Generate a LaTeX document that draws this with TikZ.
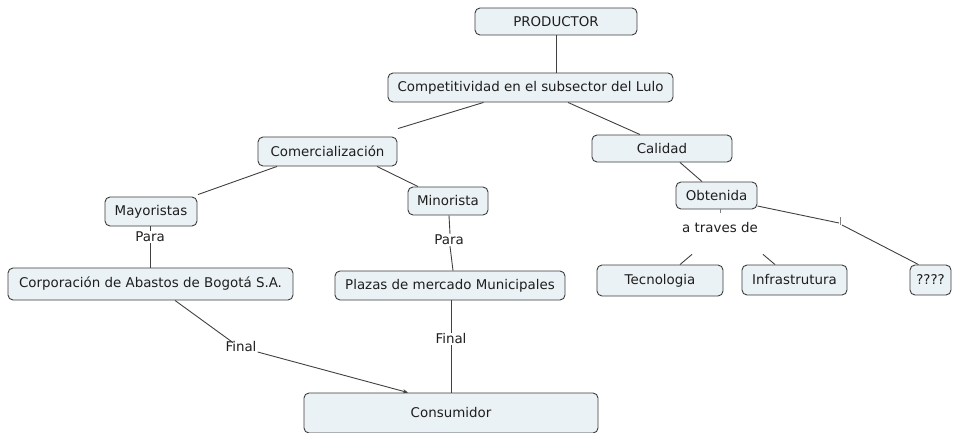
\documentclass[tikz,border=0pt]{standalone}
\usepackage{fontspec}
\setmainfont{DejaVu Sans}
\usetikzlibrary{arrows.meta}
\definecolor{boxfill}{RGB}{235,242,245}
\definecolor{boxline}{RGB}{60,60,60}
\definecolor{linkc}{RGB}{64,64,64}
\definecolor{txt}{RGB}{30,30,30}
\tikzset{
  concept/.style={draw=boxline, fill=boxfill, rounded corners=5pt, line width=0.9pt,
    inner sep=0pt, text=txt, font=\fontsize{13.4}{16}\selectfont},
  linkword/.style={inner sep=1pt, text=txt, font=\fontsize{13.4}{16}\selectfont},
  conn/.style={draw=linkc, line width=0.9pt},
}
\begin{document}
\begin{tikzpicture}[x=1pt,y=1pt]
\useasboundingbox (0,0) rectangle (953,-433);
\node[concept, minimum width=162, minimum height=27] (prod) at (556,-21.5) {PRODUCTOR};
\node[concept, minimum width=285, minimum height=29] (comp) at (530.5,-87.5) {Competitividad en el subsector del Lulo};
\node[concept, minimum width=139, minimum height=29] (com) at (327.5,-151.5) {Comercialización};
\node[concept, minimum width=92, minimum height=29] (may) at (151,-211.5) {Mayoristas};
\node[concept, minimum width=80, minimum height=28] (min) at (448,-201) {Minorista};
\node[concept, minimum width=285, minimum height=32] (corp) at (150.5,-284) {Corporación de Abastos de Bogotá S.A.};
\node[concept, minimum width=230, minimum height=29] (plaz) at (450,-285.5) {Plazas de mercado Municipales};
\node[concept, minimum width=140, minimum height=27] (cal) at (662,-148.5) {Calidad};
\node[concept, minimum width=81, minimum height=27] (obt) at (716.5,-195.5) {Obtenida};
\node[concept, minimum width=126, minimum height=31] (tec) at (660,-280.5) {Tecnologia};
\node[concept, minimum width=105, minimum height=30] (inf) at (794.5,-280) {Infrastrutura};
\node[concept, minimum width=41, minimum height=30] (qq) at (930.5,-280) {????};
\node[concept, minimum width=294, minimum height=40] (cons) at (451,-413) {Consumidor};
% linking phrases
\node[linkword] (para1) at (150,-237) {Para};
\node[linkword] (para2) at (449,-240) {Para};
\node[linkword] (fin1) at (241,-347) {Final};
\node[linkword] (fin2) at (451,-339) {Final};
\node[linkword] (atr) at (720,-228) {a traves de};
\coordinate (blank) at (840,-223);
% connectors
\draw[conn] (prod.south) -- (prod.south |- comp.north);
\draw[conn] ([xshift=-47pt]comp.south) -- ([xshift=70.5pt,yshift=8pt]com.north);
\draw[conn] ([xshift=37.5pt]comp.south) -- ([xshift=-22pt]cal.north);
\draw[conn] ([xshift=-50.5pt]com.south) -- ([xshift=47pt,yshift=2pt]may.north);
\draw[conn] ([xshift=49.5pt]com.south) -- ([xshift=-30pt]min.north);
\draw[conn] (may.south -| para1) -- (para1.north);
\draw[conn] (para1.south) -- (para1.south |- corp.north);
\draw[conn] ([xshift=1pt]min.south) -- ([xshift=1pt]para2.north);
\draw[conn] ([xshift=1pt]para2.south) -- ([xshift=3pt]plaz.north);
\draw[conn] ([xshift=24.5pt]corp.south) -- ([xshift=-8pt,yshift=-2pt]fin1.north);
\draw[conn, -{Stealth[length=5pt,width=4pt]}] ([yshift=-5pt]fin1.east) -- ([xshift=-43pt]cons.north);
\draw[conn] ([xshift=1pt]plaz.south) -- (fin2.north);
\draw[conn] (fin2.south) -- (fin2.south |- cons.north);
\draw[conn] ([xshift=18pt]cal.south) -- ([xshift=-14.5pt]obt.north);
\draw[conn, line width=0.5pt, draw=gray] ([xshift=3.5pt]obt.south) -- ++(0,-4);
\draw[conn] ([xshift=-28pt,yshift=-20pt]atr.south) -- ([xshift=20pt]tec.north);
\draw[conn] ([xshift=43pt,yshift=-20pt]atr.south) -- ([xshift=-19.5pt]inf.north);
\draw[conn] ([yshift=-10.5pt]obt.east) -- ([xshift=-1pt]blank);
\draw[conn, line width=0.5pt, draw=gray] ([yshift=6pt]blank) -- ([yshift=-2pt]blank);
\draw[conn] ([xshift=2pt,yshift=-2pt]blank) -- ([xshift=-12pt]qq.north);
\end{tikzpicture}
\end{document}
